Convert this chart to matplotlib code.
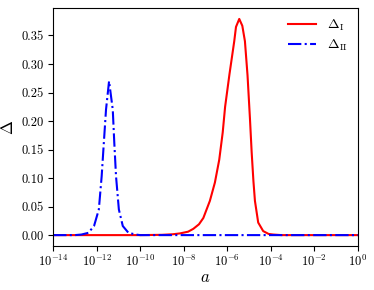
import numpy as np
import matplotlib
matplotlib.use('Agg')
import matplotlib.pyplot as plt

plt.rcParams['font.family'] = 'serif'
plt.rcParams['font.serif'] = ['cmr10']
plt.rcParams['mathtext.fontset'] = 'cm'
plt.rcParams['axes.formatter.use_mathtext'] = True

# Delta_I curve (log10 a, value)
log_a_I = [-14, -10, -9, -8.5, -8.17, -7.8, -7.56, -7.3, -7.1, -6.8, -6.57, -6.37,
           -6.21, -6.1, -5.9, -5.68, -5.6, -5.45, -5.31, -5.19, -5.07, -4.96,
           -4.88, -4.8, -4.73, -4.58, -4.35, -4.1, -3.89, -3.5, 0]
delta_I = [0, 0, 0.0005, 0.0015, 0.003, 0.006, 0.011, 0.019, 0.030, 0.06, 0.092, 0.132,
           0.18, 0.225, 0.282, 0.34, 0.365, 0.379, 0.367, 0.34, 0.28, 0.205,
           0.145, 0.095, 0.06, 0.022, 0.007, 0.002, 0.001, 0, 0]

# Delta_II curve
log_a_II = [-14, -13, -12.7, -12.38, -12.12, -11.9, -11.77, -11.67, -11.57, -11.43,
            -11.26, -11.19, -11.11, -10.98, -10.8, -10.54, -10.2, -10, 0]
delta_II = [0, 0, 0.001, 0.004, 0.016, 0.045, 0.103, 0.162, 0.22, 0.27,
            0.22, 0.162, 0.103, 0.045, 0.016, 0.004, 0.001, 0, 0]

a_I = 10.0 ** np.array(log_a_I)
a_II = 10.0 ** np.array(log_a_II)

fig = plt.figure(figsize=(3.74, 2.9), dpi=100)
ax = fig.add_axes([0.142, 0.152, 0.815, 0.820])

ax.plot(a_I, delta_I, color='red', lw=1.5, label=r'$\Delta_{\rm I}$')
ax.plot(a_II, delta_II, color='blue', lw=1.5, ls='-.', label=r'$\Delta_{\rm II}$')

ax.set_xscale('log')
ax.set_xlim(1e-14, 1e0)
ax.set_xticks([1e-14, 1e-12, 1e-10, 1e-8, 1e-6, 1e-4, 1e-2, 1e0])
ax.minorticks_off()
ax.set_yticks([0, 0.05, 0.10, 0.15, 0.20, 0.25, 0.30, 0.35])
ax.set_yticklabels(['0.00', '0.05', '0.10', '0.15', '0.20', '0.25', '0.30', '0.35'])
ax.tick_params(labelsize=9)
ax.tick_params(axis='x', pad=2)

ax.set_xlabel(r'$a$', fontsize=12, labelpad=1)
ax.set_ylabel(r'$\Delta$', fontsize=12)

ax.legend(loc='upper right', frameon=False, fontsize=10,
          borderaxespad=0.3, labelspacing=0.3)

fig.savefig('out.png', dpi=100)
